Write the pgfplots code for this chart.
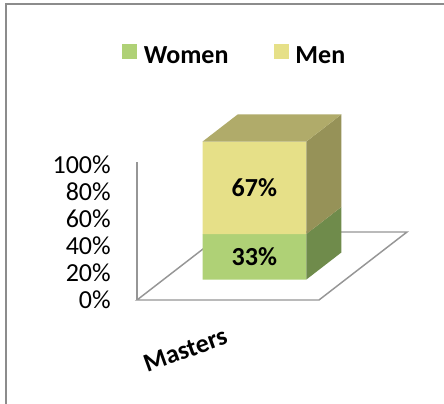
\documentclass[border=0pt]{standalone}
\usepackage{pgfplots}
\pgfplotsset{compat=1.18}
\usepackage{fontspec}
\setmainfont{Carlito}
\definecolor{wfront}{RGB}{175,209,118}
\definecolor{wside}{RGB}{111,139,75}
\definecolor{mfront}{RGB}{230,224,136}
\definecolor{mside}{RGB}{150,146,88}
\definecolor{mtop}{RGB}{176,171,106}
\definecolor{floorgray}{RGB}{150,150,150}
\definecolor{bordergray}{RGB}{140,140,140}
\begin{document}
\fontsize{19.5}{23}\selectfont
\begin{tikzpicture}
\fill[white] (0pt,0pt) rectangle (333pt,303pt);
\begin{axis}[
  at={(102.75pt,78pt)}, anchor=origin,
  x={(136.5pt,0pt)}, y={(66pt,51pt)}, z={(0pt,1.035pt)},
  xmin=0, xmax=1, ymin=0, ymax=1, zmin=0, zmax=100,
  axis line style={draw=none},
  major tick length=0pt,
  xtick={0.5}, xticklabels={Masters},
  ytick=\empty,
  ztick={0,20,40,60,80,100},
  zticklabels={0\%,20\%,40\%,60\%,80\%,100\%},
  zticklabel style={anchor=east, inner sep=0pt, xshift=-19.5pt, yshift={-0.45pt*\ticknum}, font=\fontsize{19.5}{23}\selectfont},
  xticklabel style={font=\fontsize{19.5}{23}\selectfont\bfseries, anchor=center, inner sep=0pt,
    xshift=-32pt, yshift=-37.5pt, rotate=20},
  clip=false,
  legend columns=2,
  legend style={draw=none, fill=none, font=\fontsize{19.5}{23}\selectfont\bfseries,
    at={(axis description cs:0.363,1.18)}, anchor=center,
    /tikz/every odd column/.append style={column sep=3pt},
    /tikz/every even column/.append style={column sep=32pt},
    legend cell align=left},
  legend image code/.code={\fill[#1] (0pt,-1.5pt) rectangle (11.25pt,9.75pt);},
]
% floor and wall
\draw[floorgray, line width=1.1pt] (axis cs:0,0,0) -- (axis cs:1,0,0) -- (axis cs:1,1,0) -- (axis cs:0,1,0) -- cycle;
\draw[floorgray, line width=1.5pt] (axis cs:0,0,0) -- (axis cs:0,0,100);
% Women front
\addplot3[fill=wfront, draw=none] coordinates {(0.215,0.3,0) (0.785,0.3,0) (0.785,0.3,33) (0.215,0.3,33) (0.215,0.3,0)};
\addlegendentry{Women}
% Men front
\addplot3[fill=mfront, draw=none] coordinates {(0.215,0.3,33) (0.785,0.3,33) (0.785,0.3,100) (0.215,0.3,100) (0.215,0.3,33)};
\addlegendentry{Men}
% sides
\addplot3[fill=wside, draw=none, forget plot] coordinates {(0.785,0.3,0) (0.785,0.7,0) (0.785,0.7,33) (0.785,0.3,33) (0.785,0.3,0)};
\addplot3[fill=mside, draw=none, forget plot] coordinates {(0.785,0.3,33) (0.785,0.7,33) (0.785,0.7,100) (0.785,0.3,100) (0.785,0.3,33)};
% top
\addplot3[fill=mtop, draw=none, forget plot] coordinates {(0.215,0.3,100) (0.785,0.3,100) (0.785,0.7,100) (0.215,0.7,100) (0.215,0.3,100)};
\node[font=\fontsize{19.5}{23}\selectfont\bfseries] at (axis cs:0.5,0.3,16.5) {33\%};
\node[font=\fontsize{19.5}{23}\selectfont\bfseries] at (axis cs:0.5,0.3,66.5) {67\%};
\end{axis}
\begin{scope}
\clip (0pt,0pt) rectangle (333pt,303pt);
\draw[bordergray,line width=1.5pt] (4.875pt,-10pt) -- (4.875pt,299.8pt) -- (350pt,299.8pt);
\end{scope}
\pgfresetboundingbox
\useasboundingbox (0pt,0pt) rectangle (333pt,303pt);
\end{tikzpicture}
\end{document}
